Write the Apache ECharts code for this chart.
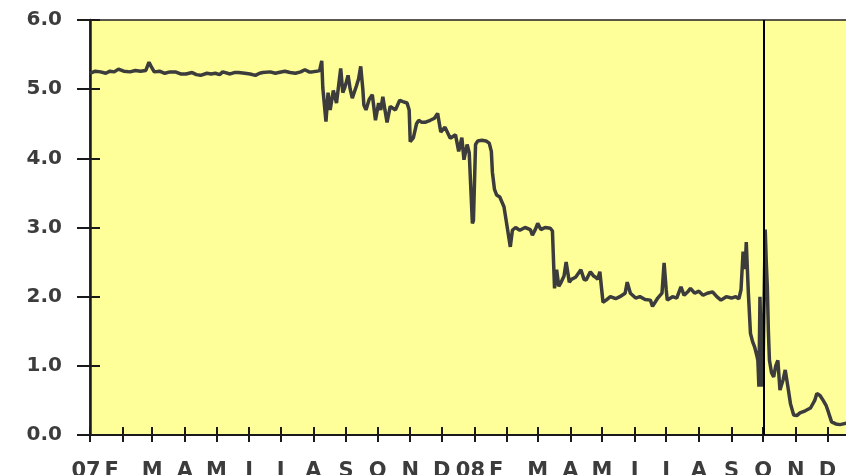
<!DOCTYPE html>
<html><head><meta charset="utf-8">
<script src="https://cdn.jsdelivr.net/npm/echarts@6/dist/echarts.min.js"></script>
<style>html,body{margin:0;padding:0;background:#fff;}#c{width:846px;height:475px;}</style>
</head><body><div id="c"></div>
<script>
const rateDates = [
'2007-01-01','2007-01-06','2007-01-11','2007-01-16','2007-01-20','2007-01-24','2007-01-28','2007-02-02','2007-02-08','2007-02-13',
'2007-02-18','2007-02-23','2007-02-26','2007-02-28','2007-03-03','2007-03-08','2007-03-13','2007-03-18','2007-03-23','2007-03-28',
'2007-04-02','2007-04-08','2007-04-12','2007-04-16','2007-04-22','2007-04-26','2007-04-30','2007-05-04','2007-05-07','2007-05-14',
'2007-05-18','2007-05-22','2007-05-28','2007-06-02','2007-06-07','2007-06-11','2007-06-14','2007-06-21','2007-06-26','2007-06-29',
'2007-07-05','2007-07-10','2007-07-15','2007-07-20','2007-07-24','2007-07-28','2007-07-31','2007-08-04','2007-08-07','2007-08-09',
'2007-08-10','2007-08-13','2007-08-15','2007-08-17','2007-08-20','2007-08-23','2007-08-25','2007-08-27','2007-08-29','2007-08-31',
'2007-09-03','2007-09-05','2007-09-07','2007-09-11','2007-09-13','2007-09-15','2007-09-17','2007-09-18','2007-09-20','2007-09-23',
'2007-09-26','2007-09-29','2007-10-02','2007-10-04','2007-10-06','2007-10-08','2007-10-10','2007-10-13','2007-10-18','2007-10-22',
'2007-10-25','2007-10-29','2007-10-31','2007-11-01','2007-11-04','2007-11-07','2007-11-09','2007-11-12','2007-11-15','2007-11-20',
'2007-11-24','2007-11-27','2007-11-30','2007-12-04','2007-12-09','2007-12-14','2007-12-17','2007-12-20','2007-12-22','2007-12-25',
'2007-12-27','2007-12-30','2007-12-31','2008-01-02','2008-01-04','2008-01-08','2008-01-12','2008-01-15','2008-01-17','2008-01-18',
'2008-01-20','2008-01-22','2008-01-25','2008-01-29','2008-02-01','2008-02-04','2008-02-06','2008-02-09','2008-02-13','2008-02-18',
'2008-02-23','2008-02-25','2008-02-28','2008-03-01','2008-03-04','2008-03-08','2008-03-13','2008-03-15','2008-03-17','2008-03-19',
'2008-03-21','2008-03-23','2008-03-26','2008-03-28','2008-03-31','2008-04-02','2008-04-06','2008-04-11','2008-04-14','2008-04-16',
'2008-04-20','2008-04-23','2008-04-25','2008-04-27','2008-04-29','2008-05-02','2008-05-05','2008-05-09','2008-05-14','2008-05-18',
'2008-05-23','2008-05-25','2008-05-28','2008-06-02','2008-06-06','2008-06-11','2008-06-16','2008-06-18','2008-06-23','2008-06-27',
'2008-06-29','2008-07-01','2008-07-02','2008-07-07','2008-07-11','2008-07-15','2008-07-18','2008-07-22','2008-07-24','2008-07-28',
'2008-08-01','2008-08-05','2008-08-09','2008-08-14','2008-08-18','2008-08-22','2008-08-27','2008-09-01','2008-09-05','2008-09-08',
'2008-09-10','2008-09-12','2008-09-14','2008-09-15','2008-09-17','2008-09-19','2008-09-21','2008-09-23','2008-09-25','2008-09-26',
'2008-09-27','2008-09-28','2008-09-30','2008-10-01','2008-10-02','2008-10-03','2008-10-04','2008-10-05','2008-10-06','2008-10-07',
'2008-10-09','2008-10-11','2008-10-13','2008-10-15','2008-10-17','2008-10-20','2008-10-22','2008-10-25','2008-10-27','2008-10-30',
'2008-11-02','2008-11-05','2008-11-10','2008-11-15','2008-11-19','2008-11-21','2008-11-24','2008-11-27','2008-11-30','2008-12-02',
'2008-12-05','2008-12-09','2008-12-13','2008-12-19','2008-12-23'
];
const rateValues = [
5.23,5.26,5.25,5.23,5.26,5.25,5.29,5.26,5.25,5.27,
5.26,5.27,5.39,5.33,5.25,5.26,5.23,5.25,5.25,5.22,
5.22,5.24,5.21,5.20,5.23,5.22,5.23,5.21,5.25,5.22,
5.24,5.24,5.23,5.22,5.20,5.23,5.24,5.25,5.23,5.24,
5.26,5.24,5.23,5.25,5.28,5.25,5.25,5.26,5.27,5.41,
5.02,4.53,4.95,4.70,4.98,4.80,5.05,5.30,4.95,5.03,
5.20,5.00,4.87,5.05,5.15,5.33,5.00,4.77,4.70,4.85,
4.92,4.55,4.80,4.70,4.89,4.70,4.52,4.75,4.70,4.84,
4.82,4.80,4.70,4.24,4.30,4.50,4.55,4.52,4.52,4.55,
4.58,4.65,4.38,4.45,4.29,4.34,4.10,4.30,3.98,4.20,
4.08,3.06,3.10,4.20,4.25,4.26,4.25,4.22,4.10,3.80,
3.55,3.47,3.44,3.30,3.01,2.72,2.96,3.00,2.96,3.00,
2.97,2.89,2.98,3.06,2.97,3.00,2.99,2.95,2.12,2.39,
2.15,2.20,2.30,2.50,2.21,2.25,2.28,2.39,2.25,2.24,
2.36,2.30,2.28,2.25,2.36,1.92,1.95,2.00,1.97,2.00,
2.05,2.21,2.05,1.98,2.00,1.96,1.95,1.86,1.98,2.05,
2.49,2.10,1.95,2.00,1.98,2.14,2.02,2.08,2.12,2.05,
2.08,2.02,2.05,2.07,2.00,1.95,2.00,1.98,2.00,1.97,
2.10,2.65,2.40,2.79,2.05,1.47,1.35,1.27,1.15,1.08,
0.70,2.00,0.70,1.04,2.00,2.97,2.50,2.14,1.50,1.08,
0.90,0.84,1.00,1.08,0.65,0.80,0.94,0.65,0.45,0.29,
0.28,0.32,0.35,0.39,0.50,0.60,0.57,0.50,0.42,0.33,
0.19,0.16,0.15,0.17,0.15
];
const monthTicks = [
'2007-01-01','2007-02-01','2007-03-01','2007-04-01','2007-05-01','2007-06-01','2007-07-01','2007-08-01','2007-09-01','2007-10-01','2007-11-01','2007-12-01',
'2008-01-01','2008-02-01','2008-03-01','2008-04-01','2008-05-01','2008-06-01','2008-07-01','2008-08-01','2008-09-01','2008-10-01','2008-11-01','2008-12-01'
];
const monthLabels = ['07','F','M','A','M','J','J','A','S','O','N','D','08','F','M','A','M','J','J','A','S','O','N','D'];
const yTickLabels = ['0.0','1.0','2.0','3.0','4.0','5.0','6.0'];
const markerDate = '2008-10-02';
const axisStart = '2007-01-01';
const axisEnd = '2008-12-20T14:00:00';

const t0 = Date.parse(axisStart + 'T00:00:00Z');
const dayOf = s => (Date.parse(s.length > 10 ? s + 'Z' : s + 'T00:00:00Z') - t0) / 86400000;
const tickDays = monthTicks.map(dayOf);
const seriesData = rateDates.map((d, i) => [dayOf(d), rateValues[i]]);
const textColor = '#3c3c3c';
const font = 'DejaVu Sans';

function monthLabel(v) {
  let best = 0, bd = Infinity;
  tickDays.forEach((t, i) => { const d = Math.abs(t - v); if (d < bd) { bd = d; best = i; } });
  const lab = monthLabels[best];
  if (lab === 'F') return '{f|F}';
  if (/\d/.test(lab)) return '{y|' + lab + '}';
  return lab;
}

const chart = echarts.init(document.getElementById('c'), null, {renderer: 'canvas'});
const xBase = {
  type: 'value', min: 0, max: dayOf(axisEnd), position: 'bottom',
  splitLine: {show: false}
};
const yBase = {
  type: 'value', min: 0, max: 6, interval: 1, position: 'left',
  splitLine: {show: false}
};
const labelFont = {color: textColor, fontFamily: font, fontSize: 21, fontWeight: 'bold'};
chart.setOption({
  animation: false,
  backgroundColor: '#ffffff',
  grid: {left: 90, right: -2, top: 20, bottom: 40, show: true, containLabel: false,
         outerBoundsMode: 'none',
         backgroundColor: '#ffff99', borderColor: '#222222', borderWidth: 1.5},
  xAxis: [
    Object.assign({}, xBase, {
      axisLine: {show: true, lineStyle: {color: '#1a1a1a', width: 2}},
      axisTick: {show: true, inside: false, length: 7, lineStyle: {color: '#1a1a1a', width: 2},
                 customValues: tickDays},
      axisLabel: Object.assign({show: true, customValues: tickDays, margin: 26,
                  hideOverlap: false, showMinLabel: true, showMaxLabel: true,
                  formatter: v => monthLabel(v),
                  rich: {
                    f: Object.assign({}, labelFont, {padding: [0, 22, 0, 0]}),
                    y: Object.assign({}, labelFont, {padding: [0, 8, 0, 0]})
                  }}, labelFont)
    }),
    Object.assign({}, xBase, {
      axisLine: {show: false},
      axisTick: {show: true, inside: true, length: 8, lineStyle: {color: '#1a1a1a', width: 2},
                 customValues: tickDays},
      axisLabel: {show: false}
    })
  ],
  yAxis: [
    Object.assign({}, yBase, {
      axisLine: {show: true, lineStyle: {color: '#1a1a1a', width: 2.5}},
      axisTick: {show: true, inside: false, length: 13, lineStyle: {color: '#1a1a1a', width: 2}},
      axisLabel: Object.assign({show: true, margin: 28,
                  formatter: (v) => yTickLabels[Math.round(v)]}, labelFont, {fontSize: 20})
    }),
    Object.assign({}, yBase, {
      axisLine: {show: false},
      axisTick: {show: true, inside: true, length: 10, lineStyle: {color: '#1a1a1a', width: 2}},
      axisLabel: {show: false}
    })
  ],
  series: [{
    type: 'line', xAxisIndex: 0, yAxisIndex: 0,
    data: seriesData, showSymbol: false, symbol: 'none',
    lineStyle: {color: '#3c3c3c', width: 3.5}, clip: true,
    markLine: {
      silent: true, symbol: ['none', 'none'], label: {show: false},
      lineStyle: {color: '#000000', width: 2, type: 'solid'},
      data: [{xAxis: dayOf(markerDate)}]
    }
  }]
});
</script>
</body></html>
